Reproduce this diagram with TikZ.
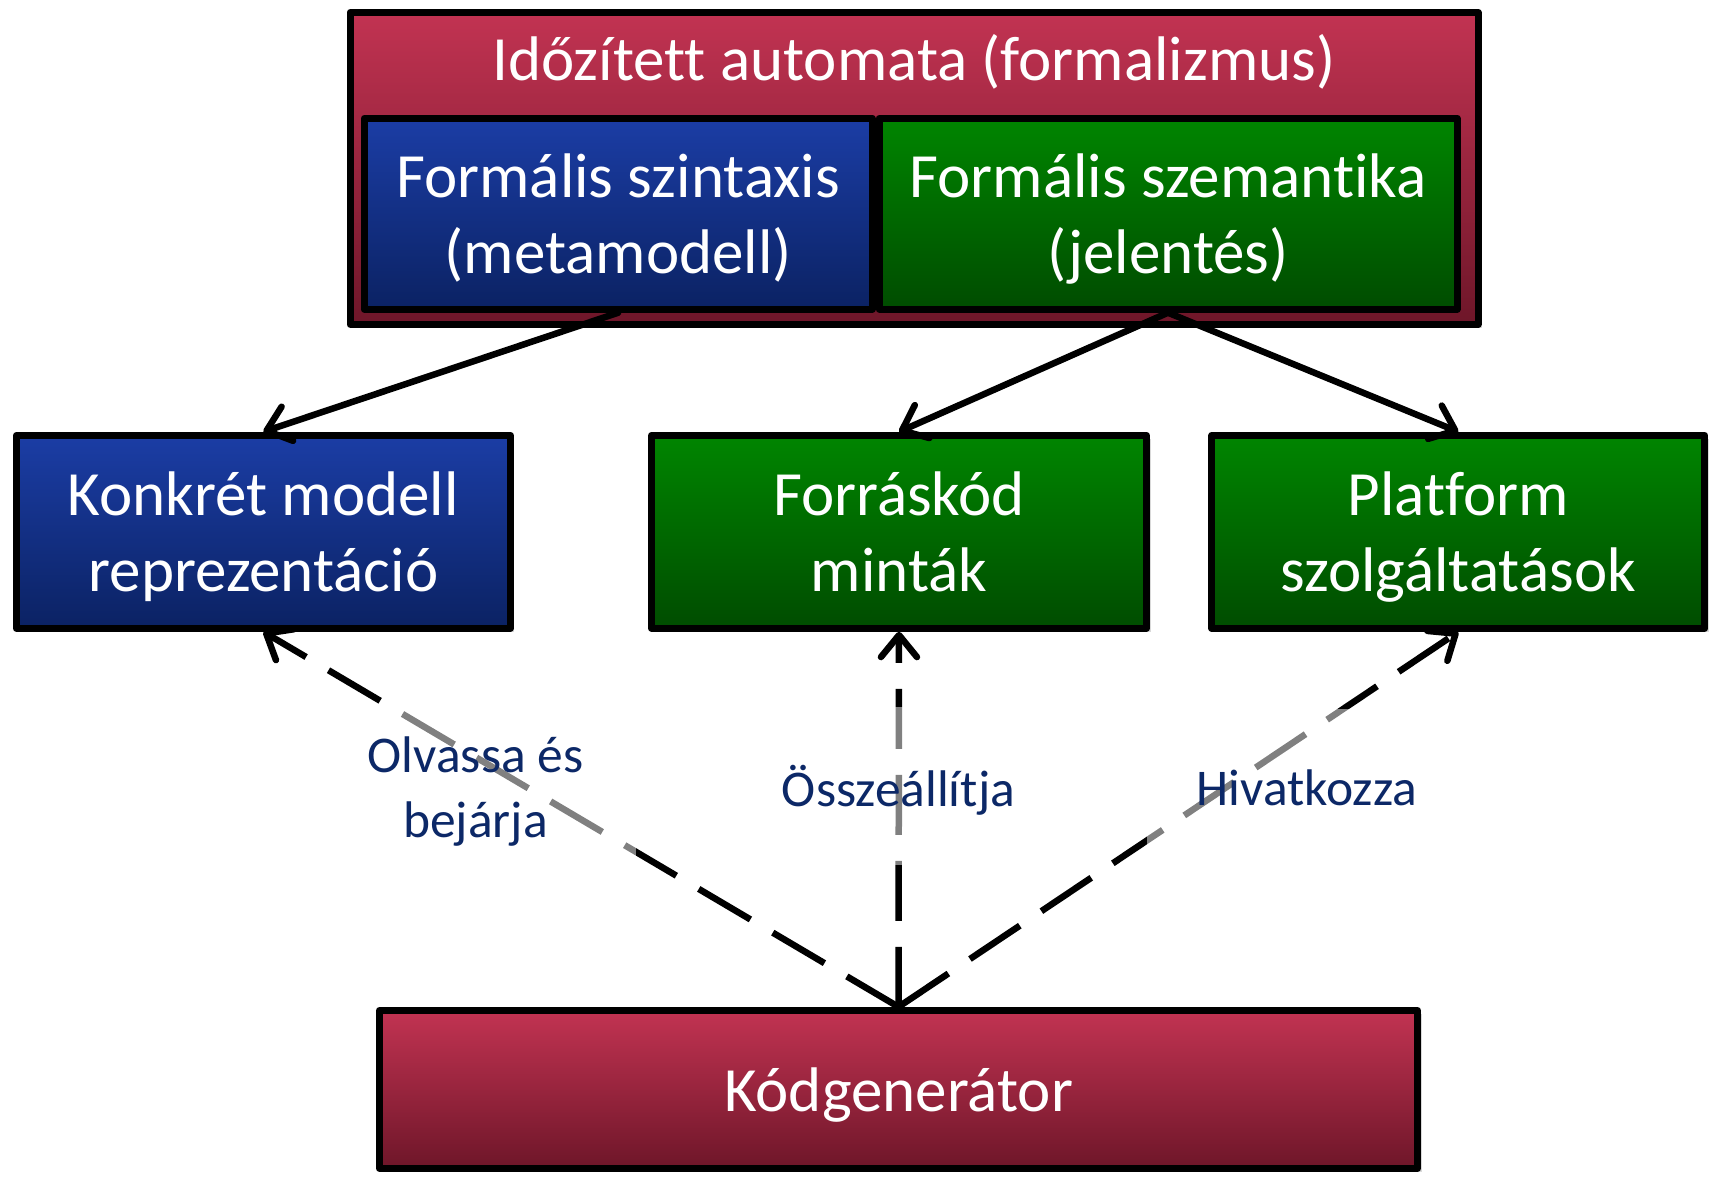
\documentclass[tikz,border=0pt]{standalone}
\usepackage{fontspec}
\setmainfont[Ligatures=NoCommon]{Carlito}
\usetikzlibrary{arrows.meta,shadows}

\definecolor{redtop}{HTML}{C23352}
\definecolor{redbot}{HTML}{6E1629}
\definecolor{bluetop}{HTML}{1B3DA5}
\definecolor{bluebot}{HTML}{0B2263}
\definecolor{greentop}{HTML}{008500}
\definecolor{greenbot}{HTML}{004C00}
\definecolor{labelblue}{HTML}{0C2867}

\newcommand\boxfont{\fontsize{63}{75.6}\selectfont}
\newcommand\lblfont{\fontsize{51.5}{64.5}\selectfont}

\begin{document}
\begin{tikzpicture}[x=1pt,y=-1pt,
  shadowed/.style={drop shadow={opacity=0.3,shadow xshift=4pt,shadow yshift=-4pt}},
  box/.style={rectangle,draw=black,line width=7pt,line join=round,
    inner sep=0pt,outer sep=3.5pt,text=white,font=\boxfont,align=center,
    text depth=0pt},
  redbox/.style={box,top color=redtop,bottom color=redbot},
  bluebox/.style={box,top color=bluetop,bottom color=bluebot},
  greenbox/.style={box,top color=greentop,bottom color=greenbot},
  solidarrow/.style={line width=6.5pt,line cap=round,
    -{Straight Barb[length=22pt,width=36pt,line cap=round,line join=round]}},
  dasharrow/.style={line width=6.5pt,dash pattern=on 60pt off 26pt,
    -{Straight Barb[length=22pt,width=36pt,line cap=round,line join=round]}},
  lbl/.style={rectangle,fill=white,fill opacity=0.5,text opacity=1,
    text=labelblue,font=\lblfont,align=center,inner sep=0pt,
    minimum height=158pt,text depth=0pt}
]
\useasboundingbox (0,0) rectangle (1714,1176);

% formalism frame with its two parts
\node[redbox,shadowed,minimum width=1128pt,minimum height=312pt] (ta) at (914,168.4) {};
\node[text=white,font=\boxfont,inner sep=0pt] (tatitle) at (914,62) {Időzített automata (formalizmus)};
\node[bluebox,minimum width=508pt,minimum height=191pt] (fsyn) at (618.2,213.7)
  {Formális szintaxis\\(metamodell)};
\node[greenbox,minimum width=578pt,minimum height=191pt] (fsem) at (1168,213.7)
  {Formális szemantika\\(jelentés)};

% middle row
\node[bluebox,shadowed,minimum width=494pt,minimum height=193pt] (konk) at (263.4,531.8)
  {Konkrét modell\\reprezentáció};
\node[greenbox,shadowed,minimum width=495pt,minimum height=193pt] (forras) at (899,531.8)
  {Forráskód\\minták};
\node[greenbox,shadowed,minimum width=493pt,minimum height=193pt] (platform) at (1458.3,531.8)
  {Platform\\szolgáltatások};

% generator
\node[redbox,shadowed,minimum width=1038pt,minimum height=158pt] (kod) at (898.5,1089.4)
  {Kódgenerátor};

% derivations from the formalism
\draw[solidarrow] (fsyn.south) -- (konk.north);
\draw[solidarrow] (fsem.south) -- (forras.north);
\draw[solidarrow] (fsem.south) -- (platform.north);

% generator dependencies
\draw[dasharrow] (kod.north) -- (konk.south);
\draw[dasharrow] (kod.north) -- (forras.south);
\draw[dasharrow] (kod.north) -- (platform.south);

% connector labels
\node[lbl,minimum width=320pt] (lread) at (475.5,787) {Olvassa és\\bejárja};
\node[lbl,minimum width=280pt] (lbuild) at (898.5,786) {Összeállítja};
\node[lbl,minimum width=320pt] (lref) at (1307,788) {Hivatkozza};
\end{tikzpicture}
\end{document}
